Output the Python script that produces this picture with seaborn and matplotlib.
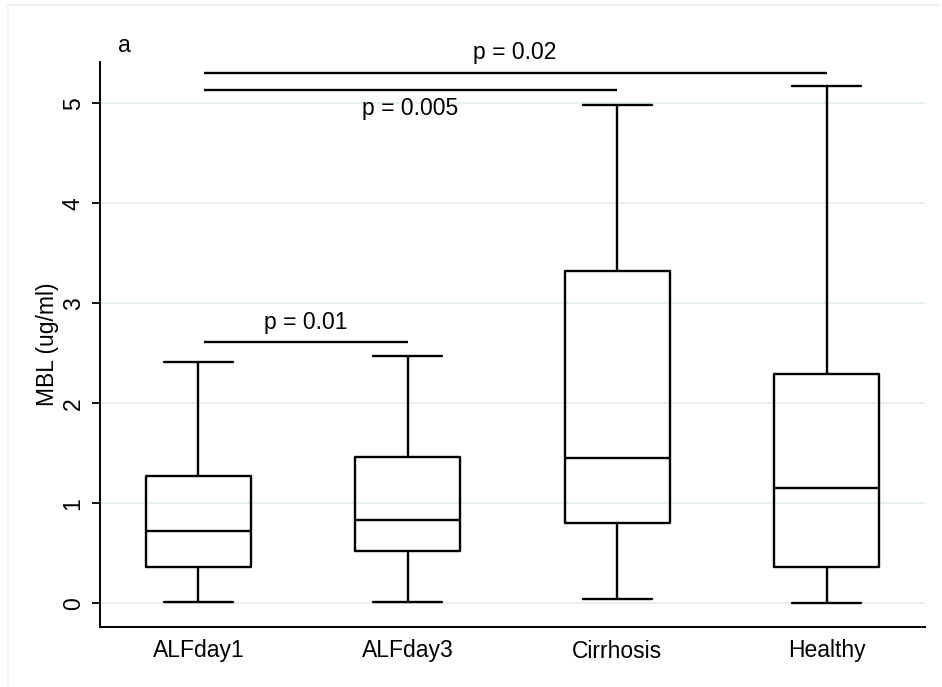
import matplotlib
matplotlib.use("Agg")
import matplotlib.pyplot as plt
import seaborn as sns
import pandas as pd
from matplotlib.lines import Line2D

# Box statistics: [min, q1, median, q3, max]
groups = ["ALFday1", "ALFday3", "Cirrhosis", "Healthy"]
alfday1 = [0.01, 0.36, 0.72, 1.27, 2.41]
alfday3 = [0.01, 0.52, 0.83, 1.46, 2.47]
cirrhosis = [0.04, 0.80, 1.455, 3.32, 4.98]
healthy = [0.00, 0.36, 1.15, 2.29, 5.17]

# Significance brackets: (group_from, group_to, height, label, label_height)
brackets = [
    ("ALFday1", "ALFday3", 2.61, "p = 0.01", 2.81),
    ("ALFday1", "Cirrhosis", 5.13, "p = 0.005", 4.95),
    ("ALFday1", "Healthy", 5.30, "p = 0.02", 5.51),
]
yticks = [0, 1, 2, 3, 4, 5]

sns.set_theme(style="white")
plt.rcParams["font.family"] = ["Liberation Sans", "DejaVu Sans"]
plt.rcParams["text.color"] = "black"
plt.rcParams["axes.labelcolor"] = "black"
plt.rcParams["xtick.color"] = "black"
plt.rcParams["ytick.color"] = "black"

values = [alfday1, alfday3, cirrhosis, healthy]
df = pd.DataFrame({
    "group": [g for g, v in zip(groups, values) for _ in v],
    "MBL": [x for v in values for x in v],
})

fig = plt.figure(figsize=(9.42, 6.87), dpi=100)
ax = fig.add_axes([100 / 942, 60 / 687, 825 / 942, 565 / 687])

for y in yticks:
    ax.axhline(y, color="#E4EEF1", lw=1.3, zorder=0)

sns.boxplot(data=df, x="group", y="MBL", order=groups, whis=(0, 100),
            width=0.5, fill=False, color="black", linewidth=1.7,
            showfliers=False, capwidths=0.33, ax=ax)

pos = {g: i for i, g in enumerate(groups)}
for g1, g2, h, lab, th in brackets:
    ax.plot([pos[g1] + 0.025, pos[g2]], [h, h], color="black", lw=1.7,
            solid_capstyle="butt")
    ax.text((pos[g1] + 0.025 + pos[g2]) / 2, th, lab, ha="center",
            va="center", fontsize=16.5, color="black")

ax.set_xlim(-0.47, 3.47)
ax.set_ylim(-0.237, 5.413)
ax.set_yticks(yticks)
ax.set_yticklabels([str(t) for t in yticks], rotation=90, va="center",
                   fontsize=16.5)
ax.tick_params(axis="y", length=6, width=1.3, colors="black", pad=5,
               direction="out", left=True)
ax.tick_params(axis="x", length=0, pad=9, labelsize=16.5, colors="black")
ax.set_xlabel("")
ax.set_ylabel("MBL (ug/ml)", fontsize=16.5, labelpad=2, color="black")

for s in ["top", "right"]:
    ax.spines[s].set_visible(False)
for s in ["left", "bottom"]:
    ax.spines[s].set_color("black")
    ax.spines[s].set_linewidth(1.4)

fig.text(118 / 942, 1 - 45 / 687, "a", fontsize=16.5, ha="left",
         va="center", color="black")

# faint outer frame (top and left)
fig.add_artist(Line2D([8 / 942, 940 / 942], [1 - 5 / 687, 1 - 5 / 687],
                      transform=fig.transFigure, color="#EAF2F3", lw=1.2))
fig.add_artist(Line2D([8 / 942, 8 / 942], [0, 1 - 5 / 687],
                      transform=fig.transFigure, color="#EAF2F3", lw=1.2))

fig.savefig("out.png", dpi=100, facecolor="white")
